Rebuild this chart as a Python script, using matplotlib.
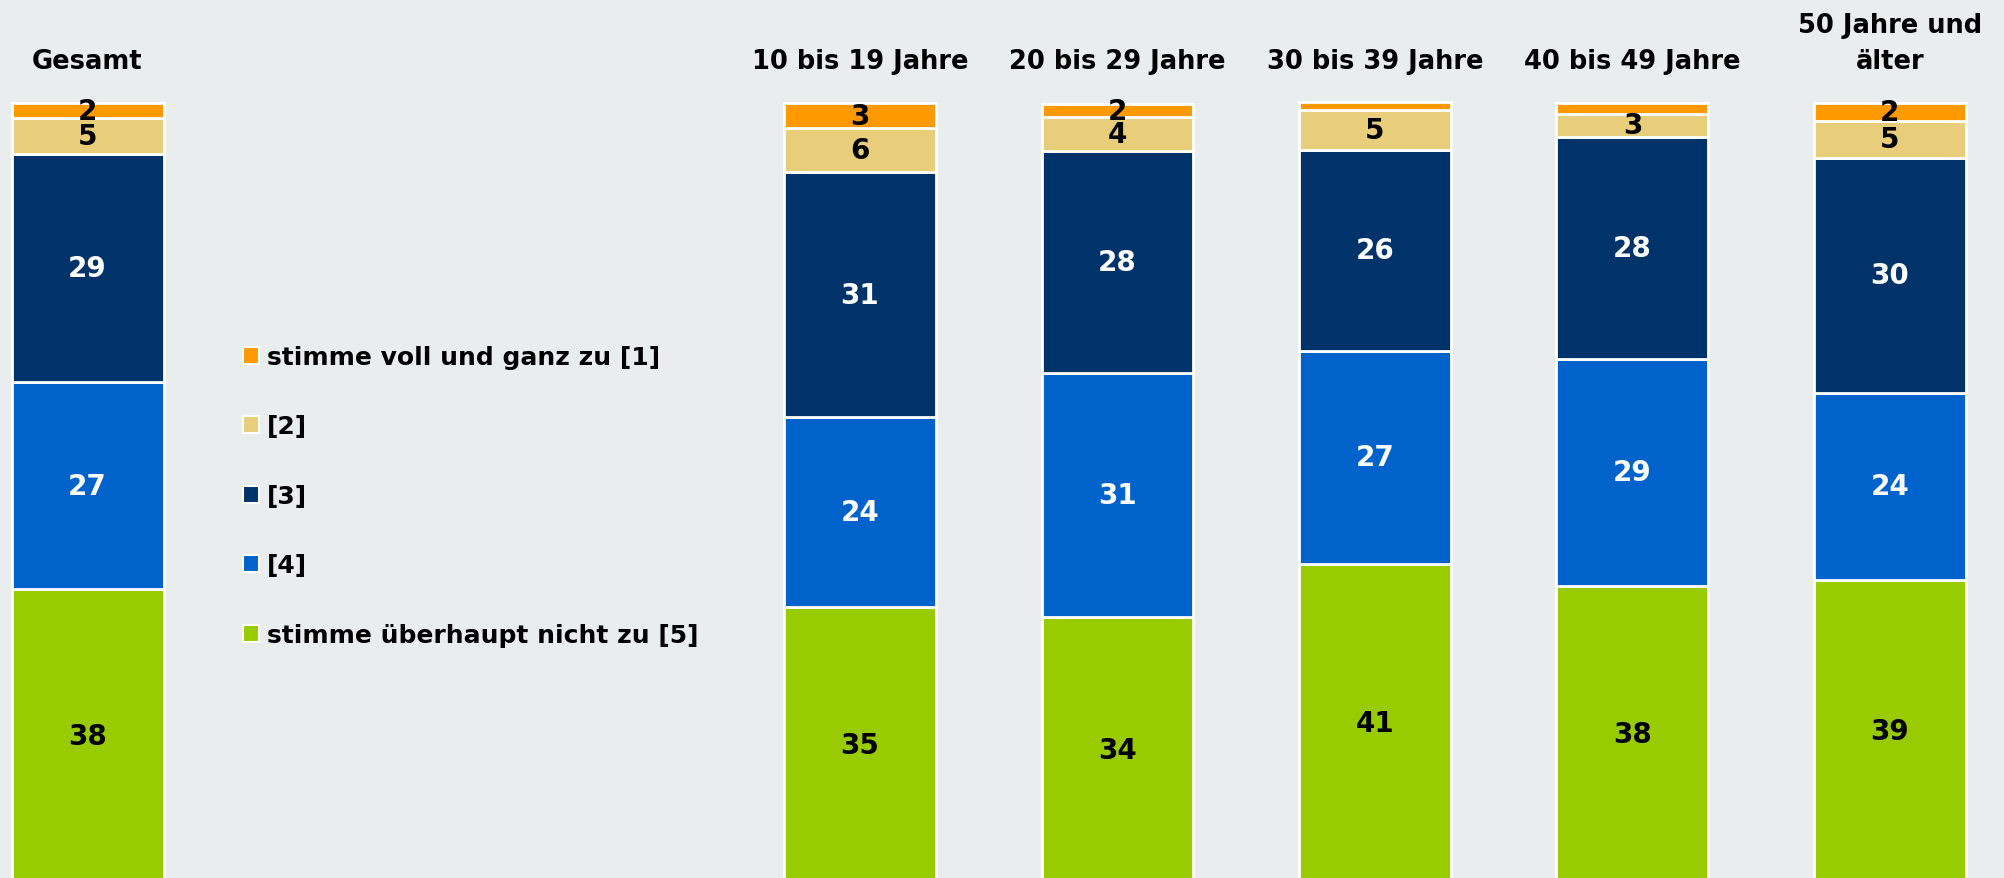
import matplotlib.pyplot as plt
from matplotlib.patches import Patch

# Daten (Anteile in %, von unten nach oben gestapelt)
groups = ["Gesamt", "10 bis 19 Jahre", "20 bis 29 Jahre", "30 bis 39 Jahre",
          "40 bis 49 Jahre", "50 Jahre und\nälter"]
xpos = [0, 3, 4, 5, 6, 7]

val5 = [37.5, 35.2, 33.9, 40.8, 37.9, 38.7]   # stimme überhaupt nicht zu [5]
val4 = [26.6, 24.4, 31.3, 27.3, 29.2, 24.0]   # [4]
val3 = [29.2, 31.4, 28.5, 25.8, 28.4, 30.1]   # [3]
val2 = [4.6, 5.6, 4.4, 5.1, 3.0, 4.8]         # [2]
val1 = [2.0, 3.3, 1.6, 1.0, 1.4, 2.3]         # stimme voll und ganz zu [1]

series = [val5, val4, val3, val2, val1]
names = ["stimme überhaupt nicht zu [5]", "[4]", "[3]", "[2]",
         "stimme voll und ganz zu [1]"]
colors = ["#99CC00", "#0063CC", "#00336A", "#E8CD7A", "#FF9900"]
text_colors = ["black", "white", "white", "black", "black"]

bg = "#E9EDEE"
plt.rcParams['font.family'] = ['DejaVu Sans']

fig = plt.figure(figsize=(20.04, 8.79), dpi=100, facecolor=bg)
ax = fig.add_axes([0, 0, 1, 1])
ax.set_facecolor(bg)

bottom = [0] * len(xpos)
for vals, col, tcol in zip(series, colors, text_colors):
    ax.bar(xpos, vals, width=0.59, bottom=bottom, color=col,
           edgecolor="white", linewidth=2)
    for x, b, v in zip(xpos, bottom, vals):
        if v >= 1.5:
            ax.text(x, b + v / 2, f"{v:.0f}", ha="center", va="center",
                    fontsize=20, fontweight="bold", color=tcol)
    bottom = [b + v for b, v in zip(bottom, vals)]

for x, g in zip(xpos, groups):
    ax.text(x, 0.915, g, transform=ax.get_xaxis_transform(), ha="center",
            va="bottom", fontsize=18.5, fontweight="bold", linespacing=1.5)

ax.set_xlim(-0.34, 7.443)
ax.set_ylim(0.5, 113.2)
ax.axis("off")

handles = [Patch(facecolor=c, edgecolor="white", linewidth=1.5)
           for c in colors[::-1]]
leg = ax.legend(handles, names[::-1], loc="upper left",
                bbox_to_anchor=(0.11, 0.632), bbox_transform=fig.transFigure,
                frameon=False, handlelength=0.65, handleheight=0.65,
                handletextpad=0.3, labelspacing=1.82,
                prop={"size": 18, "weight": "bold"})

fig.savefig("out.png", dpi=100, facecolor=bg)
